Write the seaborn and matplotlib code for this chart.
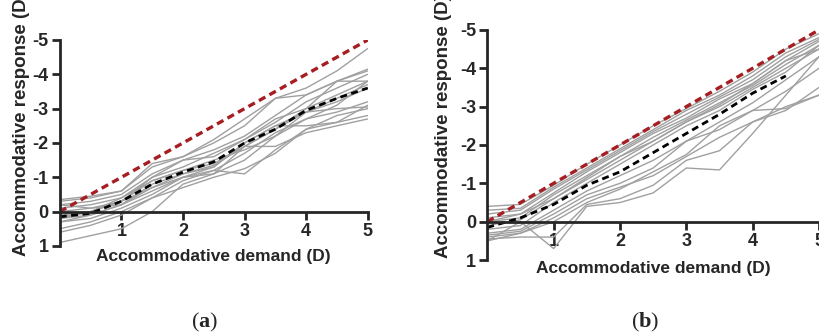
import numpy as np
import pandas as pd
import matplotlib
matplotlib.use("Agg")
import matplotlib.pyplot as plt
import seaborn as sns

# accommodative demand (D), same for every subject
demand = [0, 0.5, 1, 1.5, 2, 2.5, 3, 3.5, 4, 4.5, 5]

# panel (a): individual accommodative responses (D)
resp_a = [
    [-0.3, -0.4, -0.6, -1.3, -1.6, -2.1, -2.7, -3.3, -3.6, -4.1, -4.75],
    [-0.35, -0.45, -0.6, -1.4, -1.6, -2.0, -2.5, -3.3, -3.4, -3.8, -4.15],
    [-0.2, -0.3, -0.5, -1.1, -1.5, -1.8, -2.2, -2.8, -3.4, -3.8, -4.1],
    [-0.1, -0.2, -0.4, -1.0, -1.3, -1.7, -2.1, -2.6, -3.2, -3.6, -4.0],
    [0.2, 0.0, -0.3, -0.9, -1.2, -1.4, -1.9, -2.4, -3.0, -3.8, -3.8],
    [0.3, 0.1, -0.2, -0.7, -1.1, -1.3, -2.0, -2.5, -2.9, -3.2, -3.6],
    [0.1, 0.0, -0.4, -0.9, -1.2, -1.5, -1.8, -2.2, -2.7, -3.1, -3.8],
    [0.5, 0.3, 0.0, -0.4, -0.9, -1.2, -1.1, -1.8, -2.4, -2.6, -3.1],
    [0.9, 0.7, 0.5, 0.0, -0.8, -1.1, -1.9, -1.9, -2.3, -2.5, -2.7],
    [0.6, 0.4, 0.1, -0.4, -0.7, -1.0, -1.25, -1.7, -2.4, -2.8, -3.0],
    [0.2, 0.1, -0.2, -0.6, -1.0, -1.2, -1.7, -2.3, -2.7, -2.9, -3.2],
    [0.15, 0.0, -0.3, -0.7, -1.0, -1.3, -2.0, -2.5, -2.5, -2.6, -2.8],
    [-0.2, -0.1, -0.3, -1.0, -1.5, -1.6, -2.1, -2.7, -3.0, -3.4, -3.8],
    [0.0, -0.1, -0.2, -0.8, -1.1, -1.35, -1.9, -2.4, -2.9, -3.0, -3.05],
    [0.3, 0.2, -0.1, -0.5, -1.0, -1.1, -1.5, -2.2, -2.9, -3.3, -3.7],
]
mean_a = [0.15, 0.05, -0.3, -0.8, -1.15, -1.45, -2.0, -2.4, -2.95, -3.3, -3.6]

# panel (b)
resp_b = [
    [-0.4, -0.45, -0.95, -1.5, -2.0, -2.5, -2.95, -3.4, -3.9, -4.5, -4.9],
    [-0.3, -0.35, -0.9, -1.4, -1.9, -2.4, -2.9, -3.3, -3.8, -4.4, -4.8],
    [-0.2, -0.3, -0.85, -1.35, -1.85, -2.35, -2.8, -3.25, -3.7, -4.3, -4.75],
    [-0.1, -0.2, -0.75, -1.3, -1.8, -2.3, -2.7, -3.2, -3.6, -4.2, -4.7],
    [0.0, -0.1, -0.7, -1.2, -1.7, -2.2, -2.65, -3.1, -3.55, -4.1, -4.6],
    [0.1, -0.05, -0.6, -1.1, -1.6, -2.1, -2.6, -3.0, -3.5, -4.0, -4.5],
    [0.2, 0.1, -0.5, -1.0, -1.5, -2.0, -2.5, -2.9, -3.45, -3.9, -4.6],
    [0.3, 0.2, -0.3, -0.8, -1.2, -1.6, -2.1, -2.6, -3.1, -3.7, -4.3],
    [0.35, 0.25, -0.2, -0.7, -1.0, -1.4, -2.1, -2.4, -2.9, -3.4, -4.0],
    [0.4, 0.3, -0.1, -0.6, -0.9, -1.2, -1.7, -2.2, -2.6, -3.0, -3.3],
    [0.5, 0.0, 0.7, -0.4, -0.5, -0.75, -1.4, -1.35, -2.3, -3.3, -4.3],
    [0.45, 0.4, 0.4, -0.45, -0.6, -0.95, -1.6, -1.85, -2.6, -2.9, -3.5],
    [0.5, 0.3, 0.0, -0.5, -0.85, -1.3, -1.75, -2.5, -2.9, -2.95, -3.3],
    [0.0, -0.2, -0.6, -1.15, -1.7, -2.1, -2.6, -3.05, -3.6, -4.2, -4.5],
]
mean_b = [0.15, -0.1, -0.45, -0.95, -1.3, -1.8, -2.3, -2.8, -3.35, -3.8, np.nan]

# ideal response line (response = demand)
ideal = [0, -0.5, -1, -1.5, -2, -2.5, -3, -3.5, -4, -4.5, -5]

yticks = [1, 0, -1, -2, -3, -4, -5]
ytick_labels = ["1", "0", "-1", "-2", "-3", "-4", "-5"]
xticks = [1, 2, 3, 4, 5]


def to_long(resp):
    rows = []
    for i, r in enumerate(resp):
        for d, v in zip(demand, r):
            rows.append({"subject": i, "demand": d, "response": v})
    return pd.DataFrame(rows)


sns.set_style("ticks")
plt.rcParams["font.family"] = ["Liberation Sans", "DejaVu Sans"]
plt.rcParams["font.weight"] = "bold"
plt.rcParams["axes.unicode_minus"] = False
plt.rcParams["mathtext.fontset"] = "custom"
plt.rcParams["mathtext.bf"] = "Liberation Serif:bold"
plt.rcParams["mathtext.rm"] = "Liberation Serif"

fig = plt.figure(figsize=(8.19, 3.36), dpi=100)
ax_a = fig.add_axes([0.073, 0.268, 0.376, 0.613])
ax_b = fig.add_axes([0.595, 0.226, 0.405, 0.685])

for ax, resp, mean in [(ax_a, resp_a, mean_a), (ax_b, resp_b, mean_b)]:
    df = to_long(resp)
    sns.lineplot(data=df, x="demand", y="response", units="subject", estimator=None,
                 color="#a0a0a0", linewidth=1.0, ax=ax, legend=False)
    sns.lineplot(x=demand, y=ideal, color="#a61e22", linewidth=2.4,
                 linestyle=(0, (2.2, 1.4)), ax=ax)
    sns.lineplot(x=demand, y=mean, color="black", linewidth=2.0,
                 linestyle=(0, (2.5, 1.6)), ax=ax)

    ax.set_xlim(0, 5)
    ax.set_ylim(1, -5)
    ax.spines["top"].set_visible(False)
    ax.spines["right"].set_visible(False)
    ax.spines["bottom"].set_position(("data", 0))
    for s in ["left", "bottom"]:
        ax.spines[s].set_linewidth(2)
    ax.set_xticks(xticks)
    ax.set_yticks(yticks)
    ax.set_yticklabels(ytick_labels)
    ax.tick_params(width=2, length=6, labelsize=13, pad=2)
    for lbl in ax.get_xticklabels() + ax.get_yticklabels():
        lbl.set_fontweight("bold")
    ax.set_xlabel("Accommodative demand (D)", fontsize=12.5, fontweight="bold")
    ax.set_ylabel("Accommodative response (D)", fontsize=13.5, fontweight="bold")

ax_a.xaxis.set_label_coords(0.5, -0.05)
ax_a.xaxis.label.set_va("center")
ax_b.xaxis.set_label_coords(0.5, -0.035)
ax_b.xaxis.label.set_va("center")
ax_a.yaxis.set_label_coords(-38 / 308, 0.59)
ax_a.yaxis.label.set_va("center")
ax_b.yaxis.set_label_coords(-44 / 332, 0.58)
ax_b.yaxis.label.set_va("center")

fig.text(205 / 819, 1 - 322 / 336, r"($\mathbf{a}$)", fontsize=16, ha="center", va="center",
         family="Liberation Serif", fontweight="normal")
fig.text(645 / 819, 1 - 322 / 336, r"($\mathbf{b}$)", fontsize=16, ha="center", va="center",
         family="Liberation Serif", fontweight="normal")

fig.savefig("out.png", dpi=100)
